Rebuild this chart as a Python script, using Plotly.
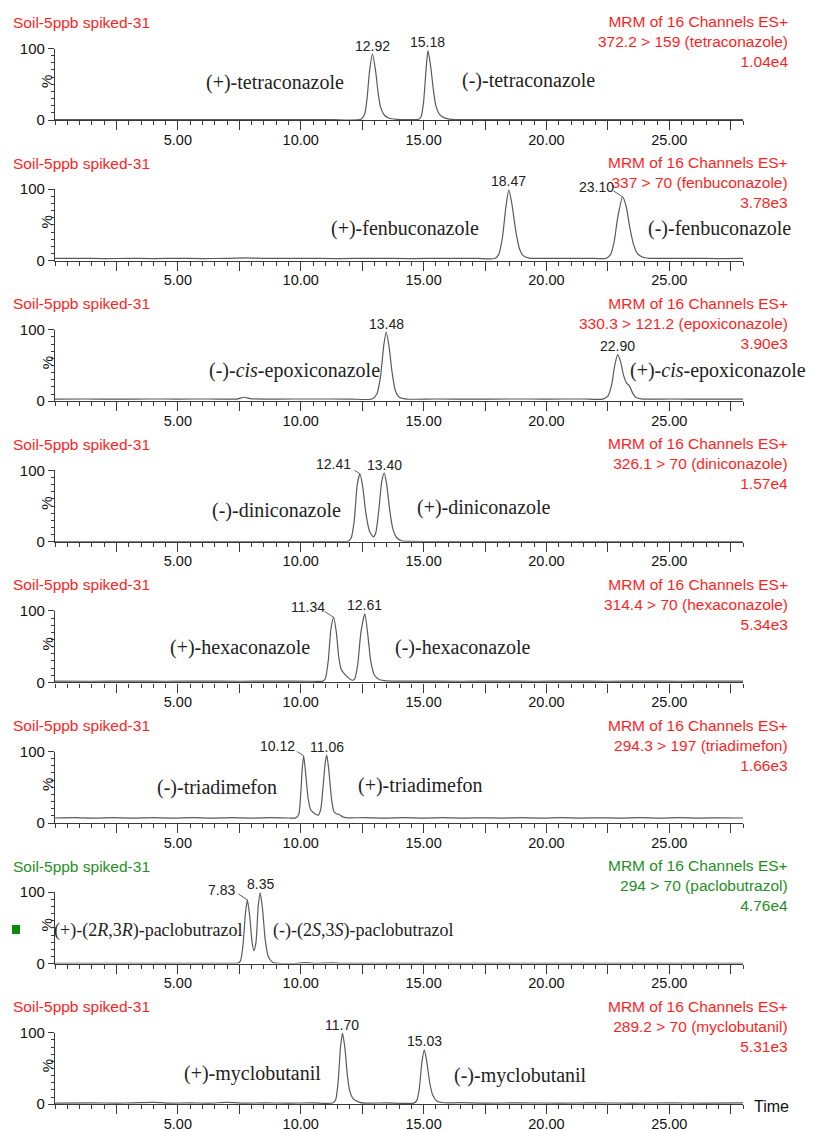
import plotly.graph_objects as go

# page is 814 x 1131; the browser body has an 8px margin, so the figure is 8px smaller
PAGE_W, PAGE_H = 814, 1131
OFF = 8
W, H = PAGE_W - OFF, PAGE_H - OFF
SANS = "Liberation Sans, Arial, sans-serif"
SERIF = "Liberation Serif, Times New Roman, serif"
AX = "#3a3a3a"
LINE = "#5a5a5a"
RED = "#ff1f1f"
GREEN = "#1f8f1f"

sample = "Soil-5ppb spiked-31"
header = "MRM of 16 Channels ES+"
channels = ["372.2 &gt; 159 (tetraconazole)", "337 &gt; 70 (fenbuconazole)",
            "330.3 &gt; 121.2 (epoxiconazole)", "326.1 &gt; 70 (diniconazole)",
            "314.4 &gt; 70 (hexaconazole)", "294.3 &gt; 197 (triadimefon)",
            "294 &gt; 70 (paclobutrazol)", "289.2 &gt; 70 (myclobutanil)"]
intensity = ["1.04e4", "3.78e3", "3.90e3", "1.57e4", "5.34e3", "1.66e3", "4.76e4", "5.31e3"]
panel_color = [RED, RED, RED, RED, RED, RED, GREEN, RED]

peak_rt = [[12.92, 15.18], [18.47, 23.10], [13.48, 22.90], [12.41, 13.40],
           [11.34, 12.61], [10.12, 11.06], [7.83, 8.35], [11.70, 15.03]]
peak_h = [[92, 97], [99, 89], [96.5, 65], [95, 96], [91, 96], [94, 95], [89, 99], [99.5, 76]]
leader = [[False, False], [False, True], [False, False], [True, False],
          [True, False], [True, False], [True, False], [False, False]]

compounds = [["(+)-tetraconazole", "(-)-tetraconazole"],
             ["(+)-fenbuconazole", "(-)-fenbuconazole"],
             ["(-)-<i>cis</i>-epoxiconazole", "(+)-<i>cis</i>-epoxiconazole"],
             ["(-)-diniconazole", "(+)-diniconazole"],
             ["(+)-hexaconazole", "(-)-hexaconazole"],
             ["(-)-triadimefon", "(+)-triadimefon"],
             ["(+)-(2<i>R</i>,3<i>R</i>)-paclobutrazol", "(-)-(2<i>S</i>,3<i>S</i>)-paclobutrazol"],
             ["(+)-myclobutanil", "(-)-myclobutanil"]]
# label centres in page pixels (layout only)
compound_pos = [[(275, 83), (528, 80)], [(405, 229), (719, 229)], [(294, 370), (718, 370)],
                [(276, 510), (484, 508)], [(240, 647), (463, 647)], [(217, 787), (420, 785)],
                [(148, 930), (363, 930)], [(252, 1073), (520, 1075)]]
compound_size = [20, 20, 20, 20, 20, 20, 18, 20]

# chromatogram traces (time min, % intensity)
tetraconazole = [(0, 0.6), (1.2, 0.5), (2.5, 0.7), (3.8, 0.5), (5, 0.6), (6.3, 0.5), (7.5, 0.6),
                 (8.8, 0.5), (10, 0.6), (11.3, 0.5), (12.45, 1), (12.6, 8), (12.7, 30), (12.8, 68),
                 (12.92, 92), (13.05, 68), (13.15, 38), (13.25, 18), (13.4, 7), (13.6, 2.5),
                 (13.9, 1), (14.3, 0.6), (14.8, 1), (14.9, 5), (15.0, 25), (15.1, 70), (15.18, 97),
                 (15.3, 72), (15.4, 42), (15.5, 20), (15.65, 8), (15.85, 3), (16.1, 1), (17, 0.6),
                 (18.5, 0.5), (20, 0.6), (21.5, 0.5), (23, 0.6), (24.5, 0.5), (26, 0.6), (28, 0.5)]
fenbuconazole = [(0, 3), (1, 3.2), (2, 2.8), (3, 3.1), (4, 2.9), (5, 3.2), (6, 2.9), (7, 3.1),
                 (7.8, 3.8), (8.6, 3), (10, 3.1), (11.5, 2.9), (13, 3.2), (14.5, 2.9), (16, 3.1),
                 (17.2, 3), (17.9, 3), (18.05, 8), (18.2, 30), (18.35, 75), (18.47, 99), (18.6, 78),
                 (18.75, 42), (18.9, 17), (19.05, 7), (19.3, 3.5), (20, 3), (21, 3.1), (22, 3),
                 (22.4, 3), (22.6, 8), (22.75, 25), (22.9, 60), (23.1, 89), (23.25, 75), (23.4, 45),
                 (23.55, 22), (23.7, 10), (23.9, 5), (24.2, 3.2), (25, 3), (26, 3.1), (27, 2.9),
                 (28, 3)]
epoxiconazole = [(0, 3), (1.2, 3.1), (2.5, 2.9), (3.8, 3.1), (5, 3), (6.3, 3.1), (7.4, 3),
                 (7.7, 5.5), (8.0, 3.3), (9, 3), (10.5, 3.1), (12, 3), (12.9, 3), (13.1, 10),
                 (13.25, 35), (13.38, 78), (13.48, 96.5), (13.6, 75), (13.72, 40), (13.85, 15),
                 (14.0, 6), (14.3, 3), (15.5, 3.1), (17, 2.9), (18.5, 3.1), (20, 3), (21.5, 3.1),
                 (22.3, 3), (22.5, 7), (22.65, 22), (22.78, 50), (22.9, 65), (23.02, 55),
                 (23.15, 35), (23.27, 25), (23.37, 22), (23.5, 12), (23.65, 5), (23.9, 3),
                 (25, 3.1), (26.5, 2.9), (28, 3)]
diniconazole = [(0, 0.4), (2, 0.3), (4, 0.4), (6, 0.3), (8, 0.4), (10, 0.3), (11.5, 0.4),
                (11.9, 0.5), (12.05, 5), (12.18, 30), (12.3, 80), (12.41, 95), (12.52, 78),
                (12.65, 40), (12.8, 15), (12.95, 7), (13.05, 12), (13.18, 45), (13.3, 85),
                (13.4, 96), (13.5, 80), (13.62, 45), (13.75, 18), (13.9, 6), (14.1, 1.5),
                (14.4, 0.5), (16, 0.4), (18, 0.3), (20, 0.4), (22, 0.3), (24, 0.4), (26, 0.3),
                (28, 0.4)]
hexaconazole = [(0, 1.8), (1.5, 1.6), (3, 1.9), (4.5, 1.6), (6, 1.8), (7.5, 1.6), (9, 1.8),
                (10.5, 1.6), (10.9, 1.7), (11.0, 5), (11.12, 30), (11.23, 75), (11.34, 91),
                (11.45, 70), (11.55, 35), (11.65, 18), (11.78, 12), (11.95, 6), (12.1, 3),
                (12.2, 5), (12.32, 25), (12.45, 70), (12.61, 96), (12.72, 70), (12.85, 30),
                (13.0, 10), (13.2, 4), (13.5, 2), (15, 1.8), (16.5, 1.6), (18, 1.9), (19.5, 1.6),
                (21, 1.8), (22.5, 1.6), (24, 1.8), (25.5, 1.6), (27, 1.8), (28, 1.7)]
triadimefon = [(0, 7), (0.8, 7.6), (1.6, 6.8), (2.4, 7.4), (3.2, 6.7), (4, 7.5), (4.8, 6.9),
               (5.6, 7.4), (6.4, 6.8), (7.2, 7.5), (8, 6.9), (8.8, 7.4), (9.5, 7), (9.8, 7.2),
               (9.92, 12), (10.0, 40), (10.06, 75), (10.12, 94), (10.2, 70), (10.3, 35),
               (10.4, 19), (10.5, 15), (10.62, 12), (10.72, 11), (10.82, 20), (10.92, 55),
               (11.0, 85), (11.06, 95), (11.14, 75), (11.25, 35), (11.35, 16), (11.45, 13),
               (11.57, 12), (11.7, 8.5), (11.9, 7.2), (12.6, 7.5), (13.4, 6.8), (14.2, 7.4),
               (15, 6.9), (15.8, 7.5), (16.6, 6.8), (17.4, 7.3), (18.2, 6.9), (19, 7.5),
               (19.8, 6.8), (20.6, 7.4), (21.4, 6.9), (22.2, 7.3), (23, 6.8), (23.8, 7.4),
               (24.6, 6.9), (25.4, 7.4), (26.2, 6.8), (27, 7.3), (28, 7)]
paclobutrazol = [(0, 0.4), (2, 0.3), (4, 0.4), (6, 0.3), (7.3, 0.4), (7.45, 0.6), (7.55, 4),
                 (7.65, 25), (7.75, 70), (7.83, 89), (7.93, 65), (8.02, 30), (8.1, 18),
                 (8.18, 30), (8.27, 80), (8.35, 99), (8.45, 75), (8.55, 35), (8.68, 10),
                 (8.85, 2), (9.1, 0.5), (9.9, 0.4), (10.2, 1.5), (10.5, 0.4), (11.3, 1),
                 (11.7, 0.4), (14, 0.3), (17, 0.4), (20, 0.3), (23, 0.4), (26, 0.3), (28, 0.4)]
myclobutanil = [(0, 1.6), (1.5, 1.8), (2.5, 1.5), (3.2, 1.9), (4.0, 2.6), (4.6, 1.6), (5.5, 1.8),
                (6.3, 1.5), (7.0, 2.6), (7.6, 1.6), (8.5, 1.8), (9.5, 1.5), (10.5, 1.8),
                (11.3, 1.6), (11.42, 6), (11.52, 30), (11.62, 80), (11.70, 99.5), (11.8, 78),
                (11.9, 40), (12.0, 18), (12.15, 7), (12.4, 2.5), (12.6, 1.6), (13.5, 1.8),
                (14.6, 1.6), (14.72, 5), (14.82, 20), (14.93, 58), (15.03, 76), (15.13, 60),
                (15.25, 30), (15.38, 12), (15.55, 4), (15.8, 2), (16.1, 1.8), (16.4, 2.2),
                (17.5, 1.6), (19, 1.8), (20.5, 1.5), (22, 1.8), (23.5, 1.6), (25, 1.8),
                (26.5, 1.6), (28, 1.8)]
traces = [tetraconazole, fenbuconazole, epoxiconazole, diniconazole,
          hexaconazole, triadimefon, paclobutrazol, myclobutanil]

x_tickvals = [2.5, 5, 7.5, 10, 12.5, 15, 17.5, 20, 22.5, 25, 27.5]
x_ticktext = ["", "5.00", "", "10.00", "", "15.00", "", "20.00", "", "25.00", ""]

# layout geometry (page pixels)
baselines = [120, 260.6, 401.2, 541.8, 682.4, 823, 963.6, 1104.2]
panel_h = 71.5
X0, X1 = 55, 743


def px(p):
    return (p - OFF) / W


def py(p):
    return 1 - (p - OFF) / H


fig = go.Figure()
annotations = []
shapes = []
layout = {}
for i, data in enumerate(traces):
    n = i + 1
    xa = "x" if n == 1 else f"x{n}"
    ya = "y" if n == 1 else f"y{n}"
    fig.add_trace(go.Scatter(
        x=[p[0] for p in data], y=[p[1] for p in data], xaxis=xa, yaxis=ya,
        mode="lines", line=dict(color=LINE, width=1.2, shape="spline", smoothing=0.6),
        hoverinfo="skip", showlegend=False))
    b = baselines[i]
    layout["xaxis" if n == 1 else f"xaxis{n}"] = dict(
        range=[0, 28], domain=[px(X0), px(X1)], anchor=ya, automargin=False,
        showline=True, linecolor=AX, linewidth=1.3, ticks="outside", ticklen=9,
        tickwidth=1, tickcolor=AX, tickvals=x_tickvals, ticktext=x_ticktext,
        tickfont=dict(family=SANS, size=14.5, color="#111"), ticklabelstandoff=-3,
        minor=dict(dtick=0.5, tick0=0, ticks="outside", ticklen=4, tickwidth=1, tickcolor=AX),
        showgrid=False, zeroline=False, fixedrange=True)
    layout["yaxis" if n == 1 else f"yaxis{n}"] = dict(
        range=[0, 100], domain=[py(b), py(b - panel_h)], anchor=xa, automargin=False,
        showline=True, linecolor=AX, linewidth=1.3, ticks="outside", ticklen=6,
        tickwidth=1, tickcolor=AX, tickvals=[0, 100], ticktext=["0", "100"],
        tickfont=dict(family=SANS, size=15, color="#111"),
        minor=dict(dtick=10, ticks="outside", ticklen=3, tickwidth=1, tickcolor=AX),
        showgrid=False, zeroline=False, fixedrange=True)

    col = panel_color[i]
    annotations.append(dict(
        xref="paper", yref="paper", x=px(11), y=py(b - 97.5), xanchor="left", yanchor="middle",
        text=sample, showarrow=False, font=dict(family=SANS, size=15.5, color=col)))
    annotations.append(dict(
        xref="paper", yref="paper", x=px(790), y=py(b - 78), xanchor="right", yanchor="middle",
        align="right", text=f"{header}<br>{channels[i]}<br>{intensity[i]}", showarrow=False,
        font=dict(family=SANS, size=15.5, color=col)))
    annotations.append(dict(
        xref="paper", yref="paper", x=px(47), y=py(b - 38), xanchor="center", yanchor="middle",
        text="%", textangle=-90, showarrow=False, font=dict(family=SANS, size=15, color="#111")))

    for k in range(2):
        t = peak_rt[i][k]
        h = peak_h[i][k]
        if leader[i][k]:
            annotations.append(dict(
                xref=xa, yref=ya, x=t, y=h, xanchor="center", yanchor="middle",
                xshift=-26, yshift=10, text=f"{t:.2f}", showarrow=False,
                font=dict(family=SANS, size=14, color="#222")))
            shapes.append(dict(
                type="line", xref=xa, yref=ya, xsizemode="pixel", ysizemode="pixel",
                xanchor=t, yanchor=h, x0=-9, x1=0, y0=6, y1=0,
                line=dict(color=LINE, width=1)))
        else:
            annotations.append(dict(
                xref=xa, yref=ya, x=t, y=h, xanchor="center", yanchor="middle",
                yshift=8.5, text=f"{t:.2f}", showarrow=False,
                font=dict(family=SANS, size=14, color="#222")))
        cx, cy = compound_pos[i][k]
        annotations.append(dict(
            xref="paper", yref="paper", x=px(cx), y=py(cy), xanchor="center", yanchor="middle",
            text=compounds[i][k], showarrow=False,
            font=dict(family=SERIF, size=compound_size[i], color="#222")))

# "Time" label of the bottom axis
annotations.append(dict(
    xref="paper", yref="paper", x=px(752), y=py(1106), xanchor="left", yanchor="middle",
    text="Time", showarrow=False, font=dict(family=SANS, size=16, color="#111")))
# small green marker beside the paclobutrazol trace
shapes.append(dict(type="rect", xref="paper", yref="paper", x0=px(12), x1=px(20),
                   y0=py(934), y1=py(925), fillcolor="#0a8a0a", line=dict(width=0)))

fig.update_layout(
    width=W, height=H, autosize=False,
    margin=dict(l=0, r=0, t=0, b=0, autoexpand=False),
    paper_bgcolor="white", plot_bgcolor="white",
    annotations=annotations, shapes=shapes, showlegend=False,
    **layout)

fig.write_html("out.html")
